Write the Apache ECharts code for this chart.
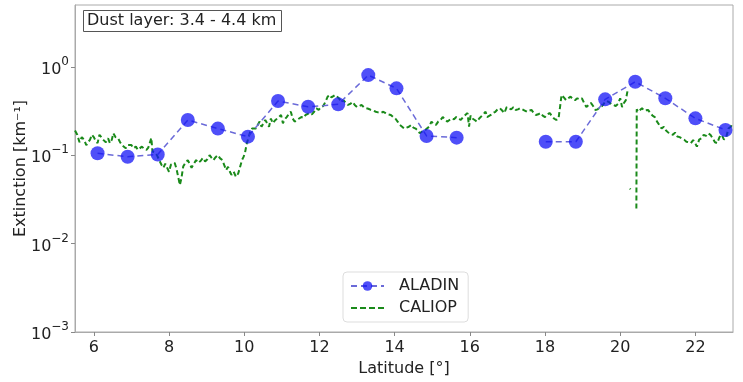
<!DOCTYPE html>
<html>
<head>
<meta charset="utf-8">
<script src="https://cdn.jsdelivr.net/npm/echarts@6/dist/echarts.min.js"></script>
<style>
  html, body { margin: 0; padding: 0; background: #fff; }
  #chart { width: 743px; height: 382px; }
</style>
</head>
<body>
<div id="chart"></div>
<script>
// ALADIN profile (null = no retrieval)
var aladinLat = [6.1, 6.9, 7.7, 8.5, 9.3, 10.1, 10.9, 11.7, 12.5, 13.3, 14.05, 14.85, 15.65, 16.45, 17.25, 18.02, 18.82, 19.6, 20.4, 21.2, 22.0, 22.8];
var aladinExt = [0.105, 0.096, 0.102, 0.25, 0.20, 0.162, 0.41, 0.353, 0.376, 0.805, 0.57, 0.165, 0.158, null, null, 0.142, 0.142, 0.428, 0.677, 0.44, 0.261, 0.193];

// CALIOP profile
var caliopLat = [5.50, 5.56, 5.62, 5.68, 5.74, 5.80, 5.85, 5.90, 5.95, 6.00, 6.05, 6.10, 6.15, 6.20, 6.26, 6.32, 6.38, 6.43, 6.48, 6.52,
  6.58, 6.64, 6.70, 6.75, 6.80, 6.85, 6.90, 6.95, 7.00, 7.05, 7.12, 7.17, 7.22, 7.28, 7.34, 7.40, 7.45, 7.50, 7.53, 7.56,
  7.62, 7.68, 7.74, 7.80, 7.85, 7.90, 7.95, 8.00, 8.05, 8.10, 8.15, 8.20, 8.25, 8.29, 8.33, 8.38, 8.44, 8.50, 8.55, 8.60,
  8.66, 8.72, 8.78, 8.84, 8.90, 8.96, 9.02, 9.08, 9.12, 9.18, 9.24, 9.30, 9.36, 9.42, 9.48, 9.52, 9.57, 9.62, 9.66, 9.72,
  9.78, 9.84, 9.88, 9.94, 9.98, 10.02, 10.07, 10.12, 10.16, 10.21, 10.26, 10.31, 10.36, 10.41, 10.46, 10.51, 10.56, 10.61, 10.66, 10.71,
  10.76, 10.81, 10.86, 10.92, 10.98, 11.03, 11.08, 11.13, 11.18, 11.24, 11.29, 11.34, 11.40, 11.46, 11.52, 11.58, 11.63, 11.68, 11.74, 11.80,
  11.86, 11.92, 11.98, 12.04, 12.10, 12.16, 12.22, 12.28, 12.32, 12.37, 12.42, 12.47, 12.52, 12.58, 12.64, 12.70, 12.76, 12.82, 12.88, 12.94,
  13.00, 13.06, 13.12, 13.18, 13.24, 13.30, 13.37, 13.43, 13.50, 13.56, 13.63, 13.70, 13.76, 13.83, 13.90, 13.96, 14.02, 14.08, 14.14, 14.20,
  14.26, 14.32, 14.38, 14.44, 14.50, 14.56, 14.62, 14.67, 14.73, 14.80, 14.86, 14.92, 14.98, 15.04, 15.10, 15.16, 15.22, 15.28, 15.34, 15.40,
  15.46, 15.52, 15.58, 15.64, 15.70, 15.76, 15.82, 15.88, 15.94, 15.98, 16.02, 16.07, 16.13, 16.19, 16.25, 16.30, 16.36, 16.42, 16.46, 16.50,
  16.56, 16.62, 16.68, 16.74, 16.80, 16.86, 16.92, 16.98, 17.04, 17.10, 17.16, 17.22, 17.28, 17.34, 17.40, 17.46, 17.52, 17.58, 17.64, 17.70,
  17.76, 17.82, 17.88, 17.94, 18.00, 18.06, 18.12, 18.18, 18.24, 18.30, 18.36, 18.40, 18.44, 18.50, 18.56, 18.62, 18.68, 18.74, 18.80, 18.86,
  18.92, 18.98, 19.04, 19.10, 19.16, 19.22, 19.28, 19.34, 19.40, 19.46, 19.52, 19.58, 19.64, 19.70, 19.76, 19.82, 19.88, 19.94, 20.00, 20.05,
  20.10, 20.15, 20.20, 20.23, 20.26, 20.27, 20.30, 20.43, 20.44, 20.48, 20.53, 20.58, 20.63, 20.68, 20.74, 20.80, 20.86, 20.92, 20.98, 21.04,
  21.10, 21.16, 21.22, 21.28, 21.34, 21.40, 21.46, 21.52, 21.58, 21.64, 21.70, 21.76, 21.82, 21.88, 21.94, 22.00, 22.04, 22.10, 22.16, 22.22,
  22.28, 22.34, 22.40, 22.46, 22.52, 22.58, 22.64, 22.70, 22.76, 22.82, 22.88, 22.94, 23.00];
var caliopExt = [0.19, 0.17, 0.14, 0.16, 0.15, 0.13, 0.125, 0.15, 0.17, 0.16, 0.145, 0.137, 0.17, 0.16, 0.148, 0.14, 0.155, 0.137, 0.15, 0.177,
  0.16, 0.157, 0.14, 0.13, 0.125, 0.12, 0.13, 0.125, 0.13, 0.12, 0.125, 0.115, 0.12, 0.125, 0.118, 0.115, 0.122, 0.12, 0.157, 0.11,
  0.108, 0.1, 0.088, 0.078, 0.072, 0.08, 0.082, 0.065, 0.078, 0.075, 0.082, 0.07, 0.068, 0.046, 0.055, 0.075, 0.082, 0.088, 0.08, 0.072,
  0.08, 0.088, 0.082, 0.086, 0.093, 0.085, 0.09, 0.1, 0.105, 0.088, 0.095, 0.1, 0.092, 0.088, 0.075, 0.068, 0.074, 0.065, 0.06, 0.065,
  0.057, 0.062, 0.071, 0.088, 0.095, 0.106, 0.137, 0.16, 0.184, 0.2, 0.21, 0.2, 0.22, 0.24, 0.21, 0.22, 0.25, 0.23, 0.21, 0.26,
  0.23, 0.245, 0.25, 0.27, 0.285, 0.23, 0.255, 0.27, 0.29, 0.31, 0.26, 0.24, 0.25, 0.26, 0.27, 0.265, 0.285, 0.28, 0.3, 0.29,
  0.31, 0.34, 0.325, 0.35, 0.36, 0.4, 0.46, 0.48, 0.45, 0.44, 0.48, 0.46, 0.44, 0.4, 0.42, 0.39, 0.37, 0.38, 0.40, 0.37,
  0.35, 0.36, 0.37, 0.35, 0.34, 0.335, 0.325, 0.32, 0.31, 0.305, 0.3, 0.31, 0.3, 0.29, 0.285, 0.27, 0.26, 0.24, 0.22, 0.21,
  0.2, 0.205, 0.21, 0.22, 0.205, 0.2, 0.19, 0.177, 0.185, 0.19, 0.2, 0.21, 0.24, 0.225, 0.22, 0.24, 0.25, 0.27, 0.255, 0.24,
  0.25, 0.26, 0.255, 0.27, 0.26, 0.25, 0.27, 0.285, 0.3, 0.21, 0.28, 0.26, 0.25, 0.24, 0.26, 0.27, 0.29, 0.31, 0.27, 0.26,
  0.285, 0.3, 0.31, 0.33, 0.34, 0.32, 0.30, 0.35, 0.34, 0.33, 0.35, 0.325, 0.33, 0.34, 0.33, 0.32, 0.31, 0.32, 0.325, 0.30,
  0.285, 0.29, 0.30, 0.28, 0.27, 0.29, 0.30, 0.28, 0.26, 0.25, 0.26, 0.35, 0.48, 0.45, 0.42, 0.44, 0.46, 0.43, 0.42, 0.44,
  0.43, 0.44, 0.39, 0.35, 0.37, 0.39, 0.36, 0.325, 0.33, 0.35, 0.36, 0.39, 0.41, 0.40, 0.38, 0.37, 0.36, 0.38, 0.44, 0.35,
  0.39, 0.42, 0.55, null, 0.042, 0.041, null, 0.025, 0.33, 0.31, 0.30, 0.34, 0.32, 0.31, 0.325, 0.3, 0.28, 0.27, 0.24, 0.22,
  0.2, 0.21, 0.19, 0.18, 0.177, 0.17, 0.18, 0.163, 0.16, 0.155, 0.15, 0.142, 0.14, 0.137, 0.148, 0.135, 0.125, 0.15, 0.155, 0.17,
  0.165, 0.177, 0.17, 0.155, 0.14, 0.137, 0.16, 0.17, 0.15, 0.16, 0.2, 0.21, 0.23];

var xTicks = [6, 8, 10, 12, 14, 16, 18, 20, 22];
var yTickExp = { '-3': '−3', '-2': '−2', '-1': '−1', '0': '0' };

function pairs(xs, ys) {
    return xs.map(function (x, i) { return [x, ys[i]]; });
}

var chart = echarts.init(document.getElementById('chart'));
var font = 'DejaVu Sans';
chart.setOption({
    animation: false,
    textStyle: { fontFamily: font },
    title: {
        text: 'Dust layer: 3.4 - 4.4 km',
        left: 83, top: 10,
        padding: [3, 5, 3, 4],
        borderColor: '#555', borderWidth: 1,
        textStyle: { fontFamily: font, fontSize: 16, fontWeight: 'normal', color: '#222' }
    },
    grid: {
        left: 75, right: 10, top: 5, bottom: 50,
        outerBoundsMode: 'none',
        containLabel: false,
        show: true, borderColor: '#aaa', borderWidth: 1
    },
    legend: {
        data: [
            { name: 'ALADIN' },
            { name: 'CALIOP', icon: 'path://M0,0h6v2h-6z M9,0h6v2h-6z M18,0h6v2h-6z M27,0h6v2h-6z' }
        ],
        orient: 'vertical',
        left: 343, top: 272,
        padding: [6, 9, 6, 7],
        itemGap: 6,
        itemWidth: 33, itemHeight: 12,
        borderColor: '#ddd', borderWidth: 1, borderRadius: 4,
        textStyle: { fontFamily: font, fontSize: 16, color: '#222', padding: [0, 0, 0, 10] }
    },
    xAxis: {
        type: 'value', min: 5.5, max: 23,
        name: 'Latitude [°]', nameLocation: 'middle', nameGap: 28,
        nameTextStyle: { fontFamily: font, fontSize: 16, color: '#222' },
        axisLine: { lineStyle: { color: '#aaa' } },
        axisTick: { show: true, length: 4, customValues: xTicks, lineStyle: { color: '#888' } },
        axisLabel: { customValues: xTicks, fontSize: 16, color: '#222', margin: 8 },
        splitLine: { show: false }
    },
    yAxis: {
        type: 'log', logBase: 10, min: 0.001, max: 5, interval: 1,
        name: 'Extinction [km⁻¹]', nameLocation: 'middle', nameGap: 46,
        nameMoveOverlap: false,
        nameTextStyle: { fontFamily: font, fontSize: 16, color: '#222' },
        axisLine: { show: true, lineStyle: { color: '#aaa' } },
        axisTick: { show: true, length: 4, lineStyle: { color: '#888' } },
        axisLabel: {
            color: '#222', margin: 6, showMaxLabel: false,
            formatter: function (v) {
                var e = yTickExp[String(Math.round(Math.log10(v)))];
                return e === undefined ? '' : '{a|10}{b|' + e + '}';
            },
            rich: {
                a: { fontFamily: font, fontSize: 16, lineHeight: 22, verticalAlign: 'bottom', color: '#222' },
                b: { fontFamily: font, fontSize: 12, lineHeight: 12, verticalAlign: 'top', color: '#222' }
            }
        },
        splitLine: { show: false }
    },
    series: [
        {
            name: 'CALIOP', type: 'line',
            data: pairs(caliopLat, caliopExt),
            showSymbol: false, symbol: 'none',
            connectNulls: false,
            color: '#1a8a1a',
            lineStyle: { color: '#1a8a1a', width: 2, type: [5, 3] },
            z: 2
        },
        {
            name: 'ALADIN', type: 'line',
            data: pairs(aladinLat, aladinExt),
            symbol: 'circle', symbolSize: 14,
            connectNulls: false,
            itemStyle: { color: 'rgba(20,20,245,0.75)' },
            lineStyle: { color: '#6a6ad8', width: 1.5, type: [6, 4] },
            z: 3
        }
    ]
});
</script>
</body>
</html>
